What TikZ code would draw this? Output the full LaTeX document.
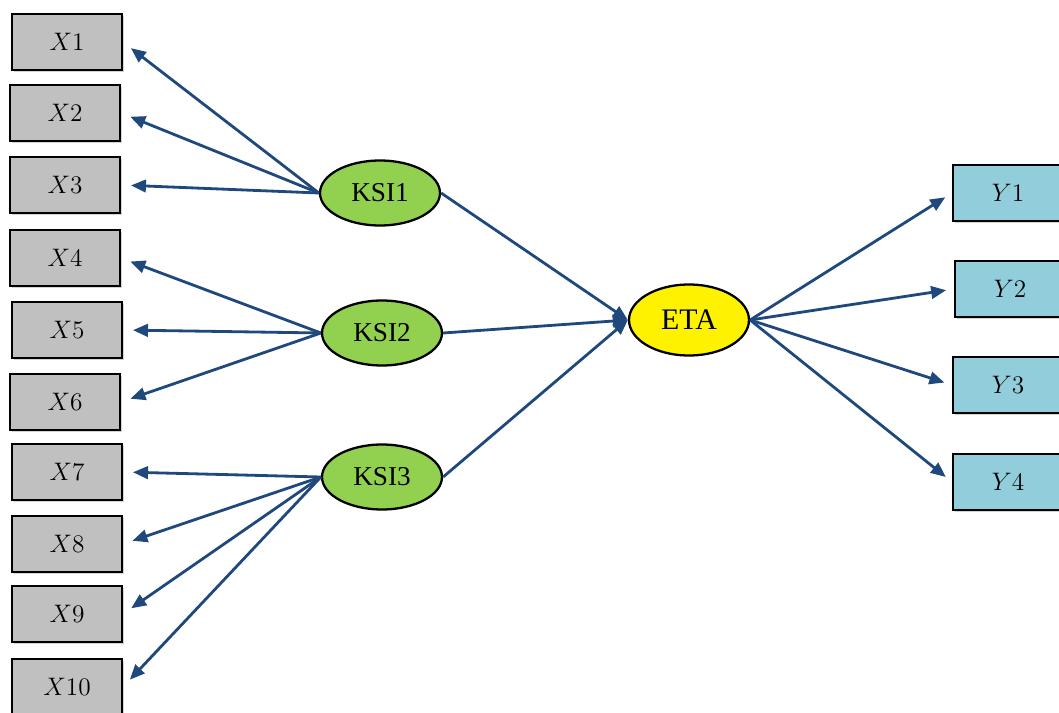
\documentclass[tikz,border=0pt]{standalone}
\usepackage{fontspec}
\setmainfont{Liberation Serif}
\usetikzlibrary{shapes.geometric,arrows.meta,shadows}
\definecolor{bleulien}{HTML}{1F497D}
\definecolor{vertksi}{HTML}{92D050}
\definecolor{bleuy}{HTML}{92CDDC}
\definecolor{grisx}{HTML}{C0C0C0}
\begin{document}
\begin{tikzpicture}[x=0.02cm, y=-0.02cm, lien/.style={-{Triangle[length=0.3cm, width=0.25cm]}, line width=1.6pt, draw=bleulien, shorten >=0.2cm}]
        \tikzset{mesure/.style={rectangle, minimum width=2.2cm, minimum height=1.12cm, draw=black, line width=1.1pt, font=\fontsize{15}{17}\selectfont, drop shadow={shadow xshift=1.2pt, shadow yshift=-1.2pt, opacity=0.35}}};
        \tikzset{latente/.style={ellipse, minimum width=2.4cm, minimum height=1.3cm, draw=black, line width=1.3pt, inner sep=0pt, font=\fontsize{15.5}{17}\selectfont}};
        \useasboundingbox (0, 0) rectangle (1059, 713);

        \node[mesure, fill=grisx] (x1) at (67, 42) {$X1$};
        \node[mesure, fill=grisx] (x2) at (65, 113) {$X2$};
        \node[mesure, fill=grisx] (x3) at (65, 185) {$X3$};
        \node[mesure, fill=grisx] (x4) at (65, 258) {$X4$};
        \node[mesure, fill=grisx] (x5) at (67, 330) {$X5$};
        \node[mesure, fill=grisx] (x6) at (65, 402) {$X6$};
        \node[mesure, fill=grisx] (x7) at (67, 472) {$X7$};
        \node[mesure, fill=grisx] (x8) at (67, 544) {$X8$};
        \node[mesure, fill=grisx] (x9) at (67, 614) {$X9$};
        \node[mesure, fill=grisx] (x10) at (67, 687) {$X10$};

        \node[latente, fill=vertksi] (ksi1) at (380, 193) {KSI1};
        \node[latente, fill=vertksi] (ksi2) at (382, 333) {KSI2};
        \node[latente, fill=vertksi] (ksi3) at (382, 477) {KSI3};
        \node[latente, fill=yellow, minimum height=1.42cm, font=\fontsize{17}{19}\selectfont] (eta) at (689, 320) {ETA};

        \node[mesure, fill=bleuy] (y1) at (1008, 193) {$Y1$};
        \node[mesure, fill=bleuy] (y2) at (1010, 289) {$Y2$};
        \node[mesure, fill=bleuy] (y3) at (1008, 385) {$Y3$};
        \node[mesure, fill=bleuy] (y4) at (1008, 482) {$Y4$};

        \draw[lien] (ksi1.west) -- (x1.east);
        \draw[lien] (ksi1.west) -- (x2.east);
        \draw[lien] (ksi1.west) -- (x3.east);
        \draw[lien] (ksi2.west) -- (x4.east);
        \draw[lien] (ksi2.west) -- (x5.east);
        \draw[lien] (ksi2.west) -- (x6.east);
        \draw[lien] (ksi3.west) -- (x7.east);
        \draw[lien] (ksi3.west) -- (x8.east);
        \draw[lien] (ksi3.west) -- (x9.east);
        \draw[lien] (ksi3.west) -- (x10.east);

        \draw[lien, shorten >=0pt] (ksi1.east) -- (eta.west);
        \draw[lien, shorten >=0pt] (ksi2.east) -- (eta.west);
        \draw[lien, shorten >=0pt] (ksi3.east) -- (eta.west);

        \draw[lien, shorten >=0.16cm] (eta.east) -- (y1.west);
        \draw[lien, shorten >=0.16cm] (eta.east) -- (y2.west);
        \draw[lien, shorten >=0.16cm] (eta.east) -- (y3.west);
        \draw[lien, shorten >=0.16cm] (eta.east) -- (y4.west);
    \end{tikzpicture}
\end{document}
